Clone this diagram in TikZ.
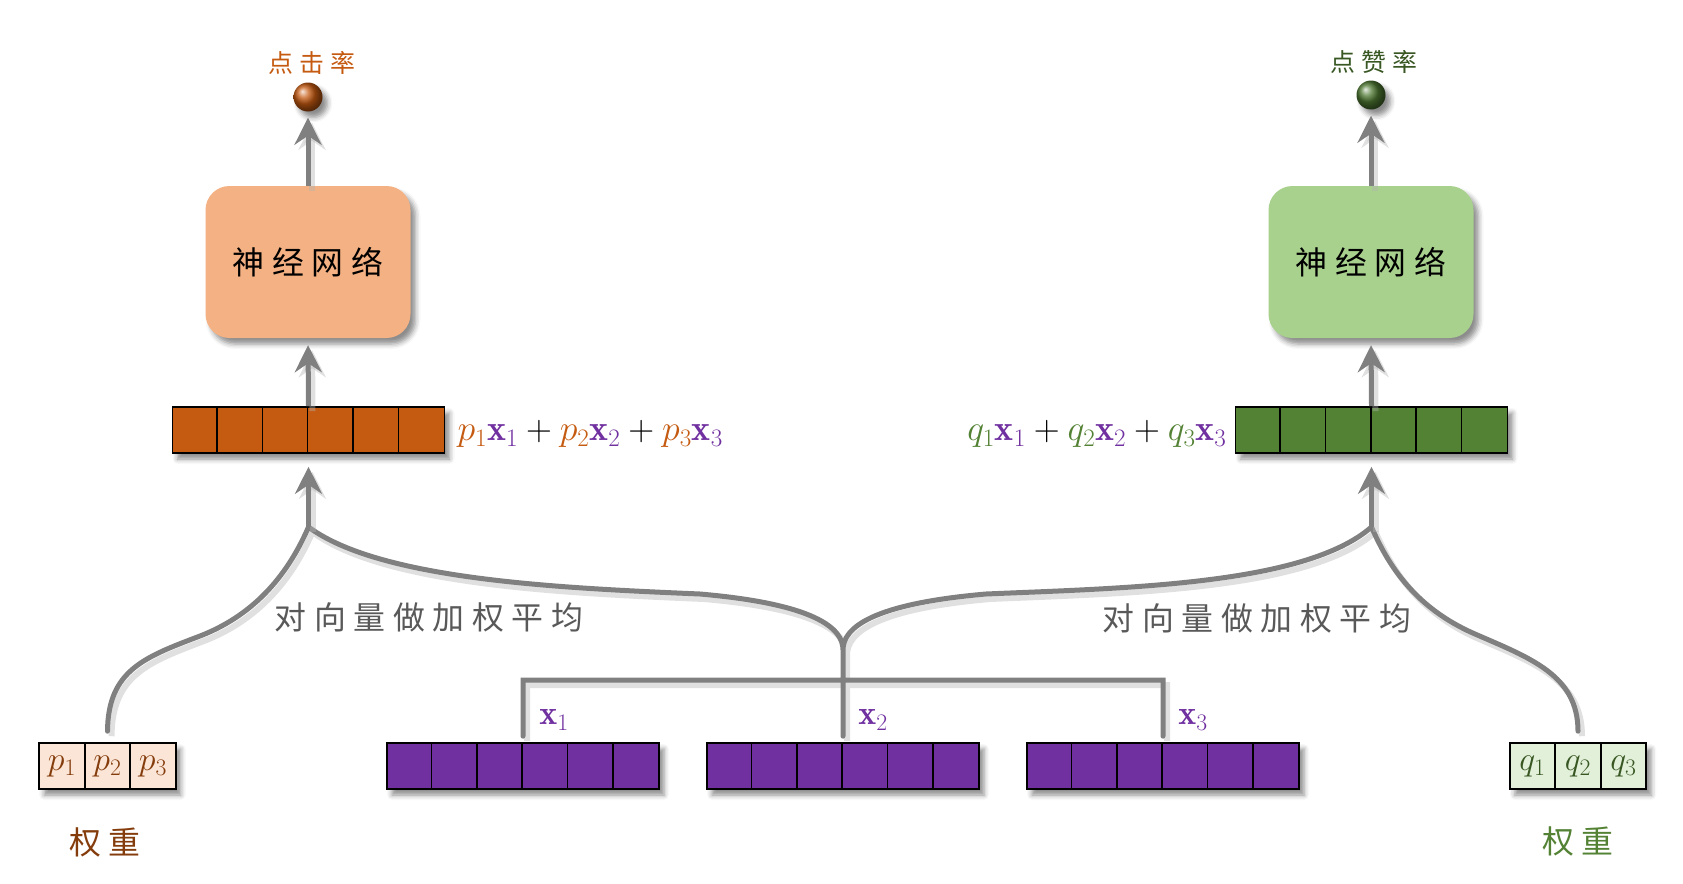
\documentclass[tikz,border=0pt]{standalone}
\usepackage{fix-cm}
\usepackage{fontspec}
\newfontfamily\cjk[LetterSpace=24]{Noto Sans CJK SC}
\usetikzlibrary{%
  arrows.meta,%
  positioning,% wg. " of "
  shadows.blur%
}
\definecolor{clkdark}{HTML}{C55A11}
\definecolor{clkbrown}{HTML}{843C0C}
\definecolor{clklight}{HTML}{F4B183}
\definecolor{clkpale}{HTML}{FBE5D6}
\definecolor{likedark}{HTML}{548235}
\definecolor{likedeep}{HTML}{385723}
\definecolor{likelight}{HTML}{A9D18E}
\definecolor{likepale}{HTML}{E2F0D9}
\definecolor{xpurple}{HTML}{7030A0}
\definecolor{linkgray}{HTML}{808080}
\definecolor{txtgray}{HTML}{595959}

\begin{document}
\begin{tikzpicture}[
  x=1bp, y=-1bp,
  shadebox/.style={blur shadow={shadow xshift=5bp, shadow yshift=-6bp, shadow blur radius=5bp, shadow opacity=45}},
  vecbox/.style={rectangle, draw=black, line width=1.6bp, minimum width=272bp, minimum height=46bp, inner sep=0pt, shadebox},
  wbox/.style={vecbox, minimum width=136.5bp},
  wcell/.style={rectangle, draw=black, line width=1.6bp, minimum width=45.5bp, minimum height=46bp, inner sep=0pt, font=\fontsize{34}{36}\selectfont},
  nnbox/.style={rectangle, rounded corners=24bp, minimum width=205bp, minimum height=152bp, inner sep=0pt, shadebox, font=\cjk\fontsize{32}{36}\selectfont},
  outball/.style={circle, minimum size=29bp, inner sep=0pt, shadebox},
  cjklabel/.style={inner sep=0pt, font=\cjk\fontsize{#1}{#1}\selectfont},
  mathlabel/.style={inner sep=0pt, font=\fontsize{#1}{#1}\selectfont},
  link/.style={draw=linkgray, line width=5bp, line cap=round,
    preaction={draw=black!30, opacity=.4, line width=6bp, transform canvas={xshift=4bp, yshift=-5bp}}},
  uplink/.style={link, line cap=butt, -{Stealth[length=27bp, width=27bp, inset=9bp]}}
]
\useasboundingbox (0,0) rectangle (1683,883);

% outputs
\node[nnbox, fill=clklight] (nnclk) at (308,262) {神经网络};
\node[nnbox, fill=likelight] (nnlike) at (1371,262) {神经网络};
\node[outball, ball color=clkdark] (oclk) at (308,97) {};
\node[outball, ball color=likedark!92!black] (olike) at (1371,95) {};
\node[cjklabel=25, text=clkdark] (tclk) at (312,63) {点击率};
\node[cjklabel=25, text=likedeep] (tlike) at (1374,62) {点赞率};

% weighted vectors
\node[vecbox, fill=clkdark] (vclk) at (308.5,430) {};
\node[vecbox, fill=likedark] (vlike) at (1371.5,430) {};
\node[mathlabel=36, right=12bp of vclk, yshift=-4bp] (fclk)
  {$\textcolor{clkdark}{p_1}\textcolor{xpurple}{\mathbf{x}_1}+\textcolor{clkdark}{p_2}\textcolor{xpurple}{\mathbf{x}_2}+\textcolor{clkdark}{p_3}\textcolor{xpurple}{\mathbf{x}_3}$};
\node[mathlabel=36, left=8bp of vlike, yshift=-4bp] (flike)
  {$\textcolor{likedark}{q_1}\textcolor{xpurple}{\mathbf{x}_1}+\textcolor{likedark}{q_2}\textcolor{xpurple}{\mathbf{x}_2}+\textcolor{likedark}{q_3}\textcolor{xpurple}{\mathbf{x}_3}$};

% input vectors
\node[vecbox, fill=xpurple] (vx1) at (523,766) {};
\node[vecbox, fill=xpurple] (vx2) at (843,766) {};
\node[vecbox, fill=xpurple] (vx3) at (1163,766) {};
\node[mathlabel=34, text=xpurple] (lx1) at (554,720) {$\mathbf{x}_1$};
\node[mathlabel=34, text=xpurple] (lx2) at (873,720) {$\mathbf{x}_2$};
\node[mathlabel=34, text=xpurple] (lx3) at (1193,720) {$\mathbf{x}_3$};

\foreach \v in {vclk,vlike,vx1,vx2,vx3}
  \foreach \i in {1,...,5}
    \draw[line width=1.6bp] ([xshift=\i*45.33bp]\v.north west) -- ([xshift=\i*45.33bp]\v.south west);

% weights
\node[wbox, fill=clkpale] (wp) at (107.5,766) {};
\node[wbox, fill=likepale] (wq) at (1578,766) {};
\foreach \i in {1,2,3} {
  \node[wcell, text=clkbrown] (wp\i) at ([xshift={(\i-2)*45.5bp}]wp.center) {$p_{\i}$};
  \node[wcell, text=likedeep] (wq\i) at ([xshift={(\i-2)*45.5bp}]wq.center) {$q_{\i}$};
}
\node[cjklabel=32, text=clkbrown] (wtl) at (105,842) {权重};
\node[cjklabel=32, text=likedark] (wtr) at (1578,841) {权重};

\node[cjklabel=32, text=txtgray] (avgl) at (429,617) {对向量做加权平均};
\node[cjklabel=32, text=txtgray] (avgr) at (1257,618) {对向量做加权平均};

\coordinate (brl) at (vclk.south |- 0,527);
\coordinate (brr) at (vlike.south |- 0,527);
\coordinate (jx) at (vx2.north |- 0,650);
\coordinate (bk) at (vx2.north |- 0,680);

\draw[link]
  ([yshift=11bp]wp.north) .. controls (108,670) and (145,657) .. (200,636)
    .. controls (262,612) and (292,565) .. (brl)
  (brl) .. controls (380,580) and (560,588) .. (700,594)
    .. controls (815,604) and (843,628) .. (jx)
  (jx) .. controls (843,628) and (871,604) .. (986,594)
    .. controls (1126,588) and (1305,585) .. (brr)
  (brr) .. controls (1388,565) and (1415,608) .. (1475,634)
    .. controls (1530,658) and (1578,675) .. ([yshift=11bp]wq.north)
  ([yshift=6bp]vx2.north) -- (jx)
  ([yshift=6bp]vx1.north) |- (bk) -| ([yshift=6bp]vx3.north);

\draw[uplink, shorten >=13bp] (brl) -- (vclk.south);
\draw[uplink, shorten >=7bp] (vclk.north) -- (nnclk.south);
\draw[uplink, shorten >=6bp] (nnclk.north) -- (oclk.south);
\draw[uplink, shorten >=13bp] (brr) -- (vlike.south);
\draw[uplink, shorten >=7bp] (vlike.north) -- (nnlike.south);
\draw[uplink, shorten >=6bp] (nnlike.north) -- (olike.south);
\end{tikzpicture}
\end{document}
